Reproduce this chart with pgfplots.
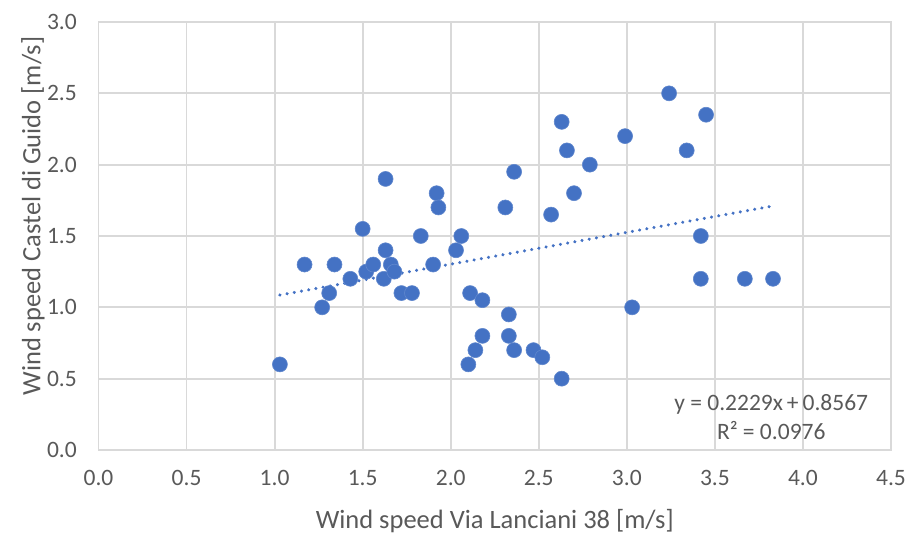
\documentclass[border=0pt]{standalone}
\usepackage{pgfplots}
\pgfplotsset{compat=1.18}
\usepackage{fontspec}
\setmainfont{Carlito}

\definecolor{xlblue}{HTML}{4472C4}
\definecolor{xlgrid}{HTML}{D9D9D9}
\definecolor{xltext}{HTML}{595959}

\begin{document}
\begin{tikzpicture}
\path[use as bounding box] (-98.5pt,-86pt) rectangle (810.5pt,450pt);
\begin{axis}[
  scale only axis,
  width=792.5pt, height=428pt,
  xmin=0, xmax=4.5, ymin=0, ymax=3,
  xtick={0,0.5,...,4.5}, ytick={0,0.5,...,3},
  /pgf/number format/.cd, fixed, fixed zerofill, precision=1, assume math mode=true,
  /pgfplots/.cd,
  grid=major,
  major grid style={xlgrid, line width=1.8pt},
  axis line style={xlgrid, line width=1.8pt},
  major tick length=0pt,
  tick label style={font=\fontsize{23.5}{27}\selectfont, text=xltext, inner sep=0pt},
  xticklabel style={anchor=north, yshift=-20pt},
  yticklabel style={anchor=east, xshift=-21.5pt},
  xlabel={Wind speed Via Lanciani 38 [m/s]},
  ylabel={Wind speed Castel di Guido [m/s]},
  label style={font=\fontsize{26.5}{30}\selectfont, text=xltext, inner sep=0pt},
  xlabel style={at={(rel axis cs:0.5,0)}, anchor=center, yshift=-71pt},
  ylabel style={at={(rel axis cs:-0.0827,0.5467)}, anchor=center},
  clip=false,
]
% observations
\addplot[only marks, mark=*, mark size=7.5pt,
  mark options={fill=xlblue, draw=xlblue!85!white, line width=0.6pt}]
  table {
x y
1.03 0.60
1.17 1.30
1.27 1.00
1.31 1.10
1.34 1.30
1.43 1.20
1.50 1.55
1.52 1.25
1.56 1.30
1.62 1.20
1.63 1.40
1.63 1.90
1.66 1.30
1.68 1.25
1.72 1.10
1.78 1.10
1.83 1.50
1.90 1.30
1.92 1.80
1.93 1.70
2.03 1.40
2.06 1.50
2.10 0.60
2.11 1.10
2.14 0.70
2.18 0.80
2.18 1.05
2.31 1.70
2.33 0.95
2.33 0.80
2.36 0.70
2.36 1.95
2.47 0.70
2.52 0.65
2.57 1.65
2.63 0.50
2.63 2.30
2.66 2.10
2.70 1.80
2.79 2.00
2.99 2.20
3.03 1.00
3.24 2.50
3.34 2.10
3.42 1.50
3.42 1.20
3.45 2.35
3.67 1.20
3.83 1.20
};
% linear trend y = 0.2229x + 0.8567 over the data range
\addplot[xlblue, line width=3.4pt, line cap=round, dash pattern=on 0.01pt off 7.3pt]
  coordinates {(1.03,1.0863) (3.83,1.7104)};
\node[font=\fontsize{23.5}{29}\selectfont, text=xltext, align=center, inner sep=0pt]
  at (axis cs:3.82,0.232) {y = 0.2229x\,+\,0.8567\\R² = 0.0976};
\end{axis}
\end{tikzpicture}
\end{document}
